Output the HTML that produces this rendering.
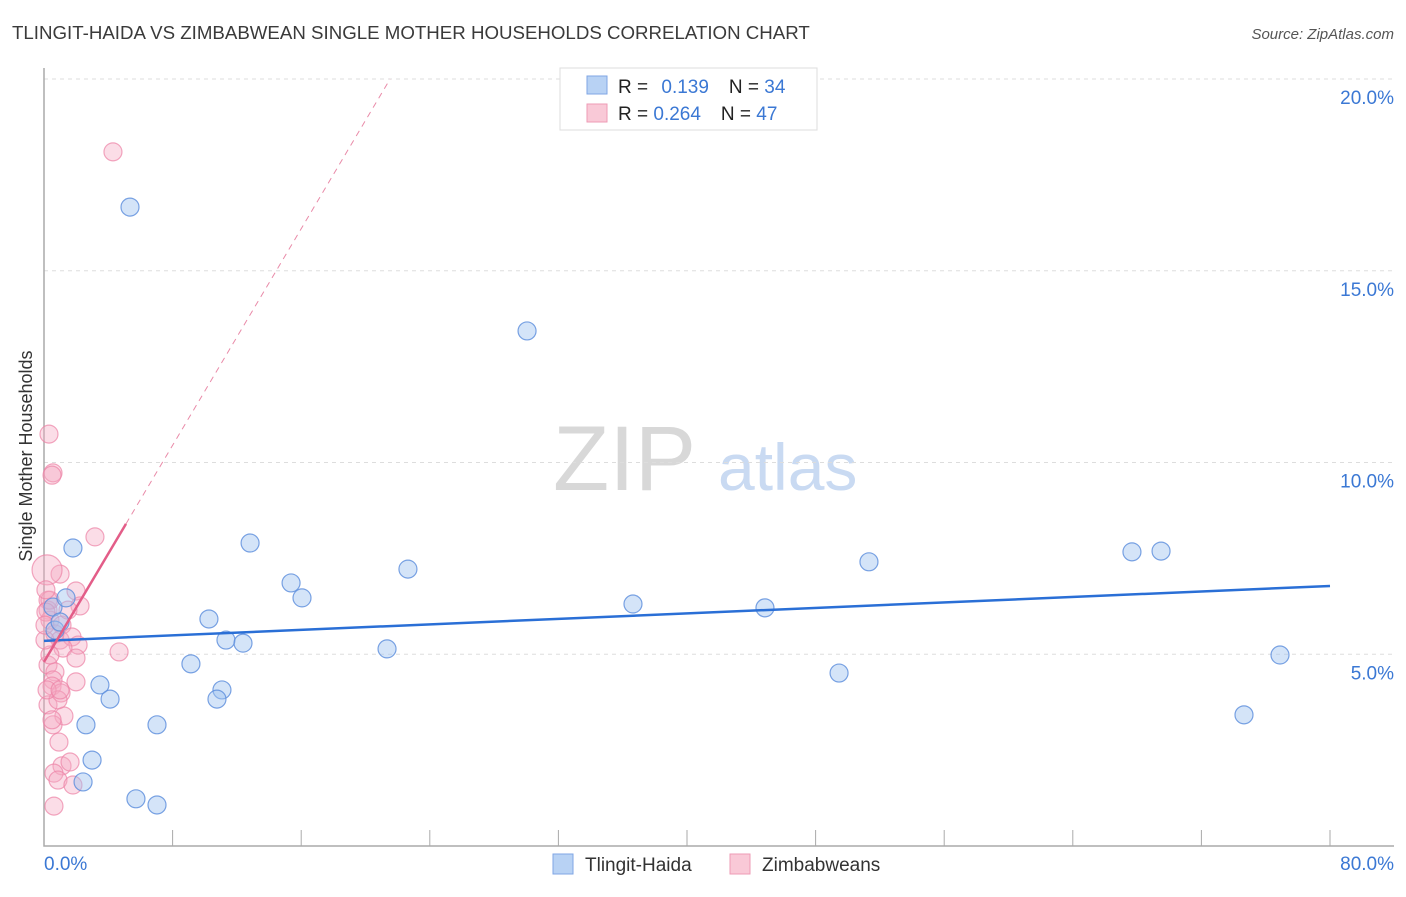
<!DOCTYPE html>
<html><head><meta charset="utf-8"><style>
body{margin:0;background:#fff;font-family:"Liberation Sans",sans-serif}
svg text{font-family:"Liberation Sans",sans-serif}
</style></head><body>
<svg id="c" width="1406" height="892" xmlns="http://www.w3.org/2000/svg">
<text x="12" y="39" font-size="18.7" fill="#3a3a3a">TLINGIT-HAIDA VS ZIMBABWEAN SINGLE MOTHER HOUSEHOLDS CORRELATION CHART</text>
<text x="1394" y="39" font-size="15" fill="#555" text-anchor="end" font-style="italic">Source: ZipAtlas.com</text>
<text x="32" y="456" font-size="18" fill="#333" text-anchor="middle" transform="rotate(-90 32 456)">Single Mother Households</text>
<text x="553" y="490" font-size="92" fill="#d8d8d8" font-family="Liberation Serif, serif">ZIP</text>
<text x="718" y="490" font-size="66" fill="#c9daf2">atlas</text>
<g id="grid"></g><g id="marks"></g>
<g>
<rect x="560" y="68" width="257" height="62" fill="#fff" stroke="#ddd"/>
<rect x="587" y="76" width="20" height="18" fill="#b8d2f4" stroke="#7fa6e4"/>
<rect x="587" y="104" width="20" height="18" fill="#f9c9d7" stroke="#ee9bb6"/>
<text x="618" y="93" font-size="19" fill="#222">R = <tspan fill="#3b78d4" dx="8">0.139</tspan><tspan dx="20" fill="#222">N = </tspan><tspan fill="#3b78d4">34</tspan></text>
<text x="618" y="120" font-size="19" fill="#222">R = <tspan fill="#3b78d4">0.264</tspan><tspan dx="20" fill="#222">N = </tspan><tspan fill="#3b78d4">47</tspan></text>
</g>
<rect x="553" y="854" width="20" height="20" fill="#b8d2f4" stroke="#7fa6e4"/>
<text x="585" y="871" font-size="19" fill="#333">Tlingit-Haida</text>
<rect x="730" y="854" width="20" height="20" fill="#f9c9d7" stroke="#ee9bb6"/>
<text x="762" y="871" font-size="19" fill="#333">Zimbabweans</text>
</svg>
<script>
const yTicks=[5,10,15,20];
const yTickLabels=["5.0%","10.0%","15.0%","20.0%"];
const xTicks=[0,8,16,24,32,40,48,56,64,72,80];
const blueX=[5.35,30.05,1.80,12.82,22.64,51.32,67.68,69.49,15.37,16.05,36.64,44.85,10.26,11.32,12.38,21.34,9.14,3.48,4.11,11.07,10.76,49.46,76.89,74.65,2.61,7.03,2.99,2.43,5.72,7.03,0.56,1.37,0.68,1.0];
const blueY=[16.66,13.43,7.77,7.90,7.22,7.41,7.67,7.69,6.86,6.47,6.31,6.21,5.92,5.37,5.29,5.14,4.75,4.20,3.83,4.07,3.83,4.51,4.98,3.42,3.16,3.16,2.24,1.67,1.23,1.07,6.23,6.47,5.63,5.84];
const pinkX=[4.29,0.31,0.56,0.5,3.17,1.0,1.99,2.24,0.19,0.25,0.25,0.37,1.12,0.68,1.0,1.74,2.12,1.18,4.67,1.99,0.25,0.68,0.56,0.5,1.06,1.99,0.25,1.24,0.56,0.93,1.12,1.62,0.62,0.87,1.80,0.62,0.37,0.12,0.12,0.37,0.87,0.06,0.19,0.5,1.0,0.06,1.49];
const pinkY=[18.10,10.74,9.73,9.67,8.06,7.09,6.65,6.26,7.20,6.41,6.15,5.89,5.76,5.53,5.37,5.45,5.24,5.16,5.06,4.90,4.72,4.54,4.33,4.17,3.99,4.28,3.68,3.39,3.16,2.71,2.09,2.19,1.90,1.72,1.59,1.04,6.41,6.10,6.68,4.98,3.81,5.37,4.07,3.29,4.07,5.76,6.15];
const blueTrend=[5.35,6.78];   // y at x=0 and x=80
const pinkTrend=[4.80,0.706];  // intercept, slope
const NS="http://www.w3.org/2000/svg";
const X=v=>44+v*16.075, Y=v=>846-v*38.35;
function mk(t,a,p){const e=document.createElementNS(NS,t);for(const k in a)e.setAttribute(k,a[k]);p.appendChild(e);return e;}
const g=document.getElementById('grid'), m=document.getElementById('marks');
yTicks.forEach((t,i)=>{
 const l=mk('line',{x1:44,x2:1394,y1:Y(t),y2:Y(t),stroke:'#ddd','stroke-dasharray':'4,4'},g);
 
 
 const tx=mk('text',{x:1394,y:Y(t)+25,'font-size':19,fill:'#3b78d4','text-anchor':'end'},g);
 tx.textContent=yTickLabels[i];
 
 
});
const ax=mk('path',{d:'M44 68V846H1394',fill:'none',stroke:'#aaa','stroke-width':1.5},g);


xTicks.forEach(t=>{const l=mk('line',{x1:X(t),x2:X(t),y1:830,y2:846,stroke:'#aaa'},g);
 
 });
[["0.0%",44,'start'],["80.0%",1394,'end']].forEach(a=>{const t=mk('text',{x:a[1],y:870,'font-size':19,fill:'#3b78d4','text-anchor':a[2]},g);t.textContent=a[0];
 
 });
pinkX.forEach((v,i)=>{const c=mk('circle',{cx:X(v),cy:Y(pinkY[i]),r:i==8?15:9,fill:'rgba(246,170,196,0.4)',stroke:'rgba(236,130,165,0.7)','stroke-width':1.2},m);
 
 });
blueX.forEach((v,i)=>{const c=mk('circle',{cx:X(v),cy:Y(blueY[i]),r:9,fill:'rgba(160,196,240,0.45)',stroke:'rgba(90,140,220,0.8)','stroke-width':1.2},m);
 
 });
const bl=mk('line',{x1:X(0),y1:Y(blueTrend[0]),x2:X(80),y2:Y(blueTrend[1]),stroke:'#2a6fd6','stroke-width':2.5},m);


const xe=(20-pinkTrend[0])/pinkTrend[1];
const pd=mk('line',{x1:X(5.1),y1:Y(pinkTrend[0]+pinkTrend[1]*5.1),x2:X(xe),y2:Y(20),stroke:'#e98aa8','stroke-width':1,'stroke-dasharray':'6,5'},m);


const pl=mk('line',{x1:X(0),y1:Y(pinkTrend[0]),x2:X(5.1),y2:Y(pinkTrend[0]+pinkTrend[1]*5.1),stroke:'#e35d88','stroke-width':2.5},m);


</script>
</body></html>
